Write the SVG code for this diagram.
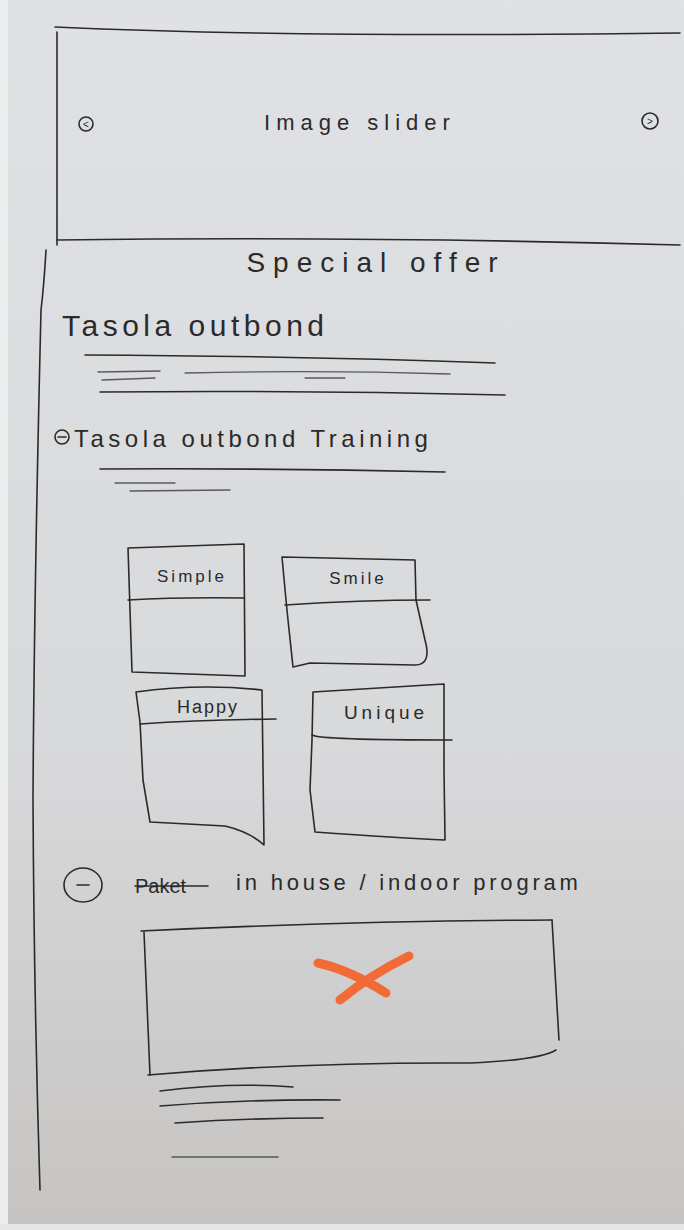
<svg xmlns="http://www.w3.org/2000/svg" width="684" height="1230" viewBox="0 0 684 1230">
  <defs>
    <linearGradient id="paper" x1="0" y1="0" x2="0" y2="1">
      <stop offset="0" stop-color="#e0e1e4"/>
      <stop offset="0.6" stop-color="#d8d9db"/>
      <stop offset="1" stop-color="#c6c4c2"/>
    </linearGradient>
    <style>
      .ink{stroke:#2a2a2a;fill:none;stroke-width:1.6;stroke-linecap:round;stroke-linejoin:round}
      .faint{stroke:#3a3a3a;fill:none;stroke-width:1.3;stroke-linecap:round;opacity:0.8}
      .txt{font-family:"Liberation Sans","DejaVu Sans",sans-serif;fill:#2a2a2a}
      .orange{stroke:#f26a35;stroke-width:9;stroke-linecap:round;fill:none}
    </style>
  </defs>
  <rect width="684" height="1230" fill="url(#paper)"/>
  <rect x="0" y="0" width="8" height="1230" fill="#eceded"/>
  <rect x="0" y="1224" width="684" height="6" fill="#e6e6e6"/>

  <g id="page-frame">
    <path class="ink" d="M55 27 Q300 38 680 33"/>
    <path class="ink" d="M57 32 L57 245"/>
    <path class="ink" d="M57 240 Q360 236 680 245"/>
    <path class="ink" d="M46 250 Q44 285 41 310 Q34 600 33 800 Q34 1000 40 1190"/>
  </g>

  <g id="image-slider">
    <circle class="ink" cx="86" cy="124" r="7"/>
    <text class="txt" x="86" y="128" font-size="10" text-anchor="middle">&lt;</text>
    <text class="txt" x="360" y="130" font-size="22" text-anchor="middle" letter-spacing="6">Image slider</text>
    <circle class="ink" cx="650" cy="121" r="8"/>
    <text class="txt" x="650" y="125" font-size="10" text-anchor="middle">&gt;</text>
  </g>

  <g id="special-offer">
    <text class="txt" x="376" y="272" font-size="28" text-anchor="middle" letter-spacing="8">Special offer</text>
  </g>

  <g id="tasola-outbond">
    <text class="txt" x="62" y="336" font-size="30" letter-spacing="4.5">Tasola outbond</text>
    <path class="ink" d="M85 355 Q300 356 495 363"/>
    <path class="faint" d="M98 372 L160 371"/>
    <path class="faint" d="M185 373 Q320 370 450 374"/>
    <path class="faint" d="M102 380 L155 378"/>
    <path class="faint" d="M305 378 L345 378"/>
    <path class="ink" d="M100 392 Q300 390 505 395"/>
  </g>

  <g id="tasola-training">
    <circle class="ink" cx="62" cy="437" r="7"/>
    <path class="ink" d="M58 437 L66 437"/>
    <text class="txt" x="74" y="447" font-size="24" letter-spacing="4.5">Tasola outbond Training</text>
    <path class="ink" d="M100 469 Q270 468 445 472"/>
    <path class="faint" d="M115 483 L175 483"/>
    <path class="faint" d="M130 491 L230 490"/>
  </g>

  <g id="card-simple">
    <path class="ink" d="M128 548 L244 544 L245 676 L132 672 Z"/>
    <path class="ink" d="M128 600 Q180 597 244 598"/>
    <text class="txt" x="192" y="582" font-size="17" text-anchor="middle" letter-spacing="3">Simple</text>
  </g>

  <g id="card-smile">
    <path class="ink" d="M282 557 L415 560 L416 600 L425 640 Q432 665 415 665 L310 663 L293 667 L288 620 L286 600 Z"/>
    <path class="ink" d="M285 605 Q360 600 430 600"/>
    <text class="txt" x="358" y="584" font-size="17" text-anchor="middle" letter-spacing="3">Smile</text>
  </g>

  <g id="card-happy">
    <path class="ink" d="M136 692 Q200 683 262 690 L264 845 Q250 832 225 826 L150 822 L143 780 L140 722 Z"/>
    <path class="ink" d="M140 724 Q200 720 276 719"/>
    <text class="txt" x="208" y="713" font-size="18" text-anchor="middle" letter-spacing="2">Happy</text>
  </g>

  <g id="card-unique">
    <path class="ink" d="M313 692 L444 684 L444 770 L445 840 Q400 838 315 832 L310 790 L312 740 Z"/>
    <path class="ink" d="M312 735 Q320 740 452 740"/>
    <text class="txt" x="386" y="719" font-size="19" text-anchor="middle" letter-spacing="4">Unique</text>
  </g>

  <g id="in-house-program">
    <ellipse class="ink" cx="83" cy="885" rx="19" ry="17"/>
    <path class="ink" d="M77 885 L89 885"/>
    <text class="txt" x="135" y="893" font-size="20">Paket</text>
    <path class="ink" d="M135 886 L208 886" stroke-width="3"/>
    <text class="txt" x="236" y="890" font-size="22" letter-spacing="3.8">in house / indoor program</text>
    <path class="ink" d="M141 931 Q350 921 552 920"/>
    <path class="ink" d="M552 920 L559 1040"/>
    <path class="ink" d="M144 932 L150 1075"/>
    <path class="ink" d="M148 1075 Q300 1062 470 1063 Q540 1060 556 1050"/>
    <path class="orange" d="M318 963 Q350 970 386 993"/>
    <path class="orange" d="M409 956 Q370 975 340 1000"/>
    <path class="ink" d="M160 1091 Q230 1082 293 1087"/>
    <path class="ink" d="M160 1106 Q250 1099 340 1100"/>
    <path class="ink" d="M175 1123 Q250 1118 323 1118"/>
    <path class="faint" d="M172 1157 L278 1157"/>
  </g>
</svg>
